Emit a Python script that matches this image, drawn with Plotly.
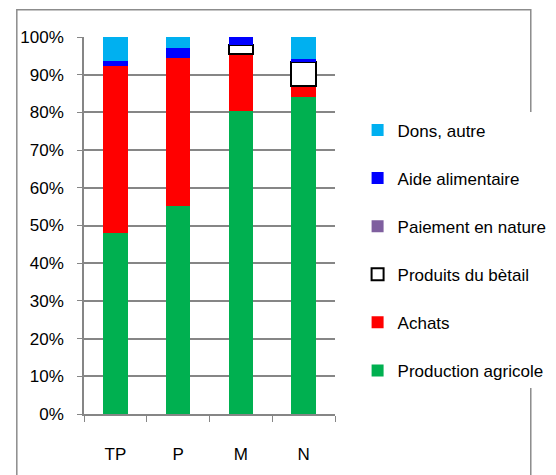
import plotly.graph_objects as go

CATEGORIES = ["TP", "P", "M", "N"]

PRODUCTION_AGRICOLE = [48.0, 55.3, 80.5, 84.2]
ACHATS = [44.2, 39.0, 15.0, 2.9]
PRODUITS_BETAIL = [0, 0, 2.5, 6.4]
PAIEMENT_NATURE = [0, 0, 0, 0]
AIDE_ALIMENTAIRE = [1.5, 2.7, 2.0, 0.7]
DONS_AUTRE = [6.3, 3.0, 0, 5.8]

FONT = "Liberation Sans Narrow, Arial Narrow, sans-serif"

series = [
    ("Production agricole", PRODUCTION_AGRICOLE, "#00B050", None),
    ("Achats", ACHATS, "#FF0000", None),
    ("Produits du bètail", PRODUITS_BETAIL, "#FFFFFF", "#000000"),
    ("Paiement en nature", PAIEMENT_NATURE, "#7F5F9F", None),
    ("Aide alimentaire", AIDE_ALIMENTAIRE, "#0000FF", None),
    ("Dons, autre", DONS_AUTRE, "#00B0F0", None),
]

fig = go.Figure()
for i, (name, vals, color, border) in enumerate(series):
    y = [v if v else None for v in vals]
    fig.add_trace(go.Bar(
        x=CATEGORIES, y=y, name=name, legendgroup=name,
        legendrank=1000 - i,
        marker=dict(color=color,
                    line=dict(color=border or color, width=2 if border else 0)),
    ))

# page is drawn with an 8px body offset, margins compensate
fig.update_layout(
    barmode="stack",
    bargap=0.61,
    width=556, height=475,
    margin=dict(l=74, r=213, t=29, b=69),
    paper_bgcolor="white", plot_bgcolor="white",
    font=dict(family=FONT, size=17, color="#000000"),
    showlegend=True,
    legend=dict(traceorder="grouped", tracegroupgap=23,
                x=1.09, y=0.80, xanchor="left", yanchor="top",
                font=dict(family=FONT, size=17), itemwidth=30),
    xaxis=dict(showline=True, linecolor="#868686", linewidth=1.5,
               ticks="outside", tickson="boundaries", ticklen=6,
               tickcolor="#868686", ticklabelstandoff=24),
    yaxis=dict(range=[0, 100], dtick=10, ticksuffix="%",
               showgrid=True, gridcolor="#868686", gridwidth=1.5,
               showline=True, linecolor="#868686", linewidth=1.5,
               ticks="outside", ticklen=5, tickcolor="#868686",
               ticklabelstandoff=10, zeroline=False),
    shapes=[dict(type="rect", xref="paper", yref="paper",
                 x0=-0.2677, x1=1.78, y0=-0.18, y1=1.072,
                 line=dict(color="#8C8C8C", width=1.5))],
)

fig.write_html("out.html")
